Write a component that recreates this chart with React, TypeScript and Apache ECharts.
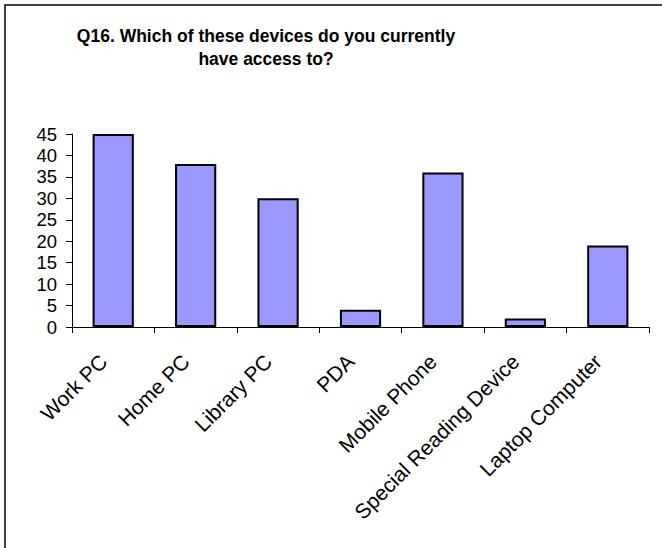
import React, { useEffect, useRef } from "react";
import * as echarts from "echarts";

const categories = [
  "Work PC",
  "Home PC",
  "Library PC",
  "PDA",
  "Mobile Phone",
  "Special Reading Device",
  "Laptop Computer",
];
const values = [45, 38, 30, 4, 36, 2, 19];
const titleLines = ["Q16. Which of these devices do you currently", "have access to?"];

const FONT = "Liberation Sans, Arial, sans-serif";

export default function App() {
  const ref = useRef<HTMLDivElement>(null);
  useEffect(() => {
    document.body.style.margin = "0";
    const chart = echarts.init(ref.current!, null, { renderer: "svg" });
    chart.setOption({
      animation: false,
      backgroundColor: "#ffffff",
      textStyle: { fontFamily: FONT },
      graphic: [
        {
          type: "rect",
          shape: { x: 5, y: 5, width: 720, height: 620 },
          style: { fill: "none", stroke: "#000", lineWidth: 1.5 },
          silent: true,
        },
      ],
      title: {
        text: titleLines.join("\n"),
        left: 261,
        top: 19,
        textAlign: "center",
        textStyle: {
          fontFamily: FONT,
          fontWeight: "bold",
          fontSize: 17.5,
          lineHeight: 23,
          color: "#000",
        },
      },
      grid: { left: 72, right: 13, top: 134, bottom: 221, containLabel: false },
      xAxis: {
        type: "category",
        data: categories,
        axisLine: { lineStyle: { color: "#000", width: 1 } },
        axisTick: { show: true, length: 6, alignWithLabel: false, lineStyle: { color: "#000" } },
        axisLabel: {
          rotate: 45,
          interval: 0,
          margin: 21,
          padding: [0, 14, 0, 0],
          fontSize: 21,
          color: "#000",
          fontFamily: FONT,
        },
      },
      yAxis: {
        type: "value",
        min: 0,
        max: 45,
        interval: 5,
        splitLine: { show: false },
        axisLine: { show: true, lineStyle: { color: "#000", width: 1 } },
        axisTick: { show: true, length: 6, lineStyle: { color: "#000" } },
        axisLabel: {
          fontSize: 18.5,
          margin: 15,
          color: "#000",
          fontFamily: FONT,
        },
      },
      series: [
        {
          type: "bar",
          data: values,
          barWidth: "50%",
          itemStyle: { color: "#9999FF", borderColor: "#000", borderWidth: 2 },
        },
      ],
    });
    return () => chart.dispose();
  }, []);
  return <div ref={ref} style={{ width: 662, height: 548 }} />;
}
